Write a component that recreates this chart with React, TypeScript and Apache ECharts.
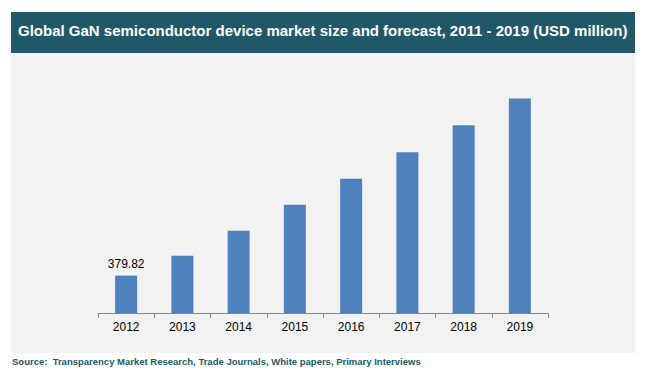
import React, { useEffect, useRef } from "react";
import * as echarts from "echarts";

const categories = ["2012", "2013", "2014", "2015", "2016", "2017", "2018", "2019"];
const marketSize = [379.82, 583, 835, 1100, 1364, 1634, 1907, 2179];
const labeledValues = ["379.82", "", "", "", "", "", "", ""];
const titleText = "Global GaN semiconductor device market size and forecast, 2011 - 2019 (USD million)";
const sourceText = "Source:  Transparency Market Research, Trade Journals, White papers, Primary Interviews";

export default function App() {
  const ref = useRef<HTMLDivElement>(null);
  useEffect(() => {
    if (!ref.current) return;
    const chart = echarts.init(ref.current, undefined, { renderer: "svg" });
    chart.setOption({
      animation: false,
      backgroundColor: "#ffffff",
      graphic: [
        { type: "rect", z: -10, shape: { x: 11, y: 12, width: 624, height: 41 }, style: { fill: "#215868" } },
        { type: "rect", z: -10, shape: { x: 11, y: 53, width: 624, height: 300 }, style: { fill: "#F2F2F2" } },
        {
          type: "text", left: 18, top: 23,
          style: { text: titleText, fill: "#ffffff", font: "bold 15px Arial, 'Liberation Sans', sans-serif" },
        },
        {
          type: "text", left: 12, top: 356,
          style: { text: sourceText, fill: "#215868", font: "bold 9.5px 'Liberation Sans Narrow', Arial, sans-serif" },
        },
      ],
      grid: { left: 98, right: 100, top: 67, bottom: 64 },
      xAxis: {
        type: "category",
        data: categories,
        axisLine: { lineStyle: { color: "#868686", width: 1 } },
        axisTick: { show: true, length: 5, lineStyle: { color: "#868686" } },
        axisLabel: { color: "#000000", fontSize: 12, fontFamily: "Arial, 'Liberation Sans', sans-serif", margin: 8 },
      },
      yAxis: { type: "value", min: 0, max: 2500, show: false, splitLine: { show: false } },
      series: [
        {
          type: "bar",
          data: marketSize,
          barWidth: 22,
          itemStyle: { color: "#4F81BD" },
          label: {
            show: true,
            position: "top",
            distance: 6,
            color: "#000000",
            fontSize: 12,
            fontFamily: "Arial, 'Liberation Sans', sans-serif",
            formatter: (p: any) => labeledValues[p.dataIndex],
          },
        },
      ],
    });
    return () => chart.dispose();
  }, []);
  return <div ref={ref} style={{ position: "absolute", left: 0, top: 0, width: 648, height: 377 }} />;
}
